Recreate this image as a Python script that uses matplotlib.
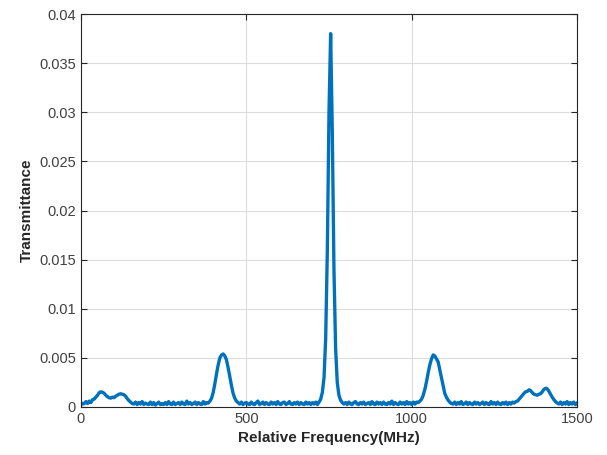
import numpy as np
import matplotlib.pyplot as plt

# relative frequency grid (MHz), 5 MHz sampling
freq = np.arange(0, 1505, 5)

# transmittance, in units of 1e-3, one row per 100 MHz
trans_e3 = [
    0.45, 0.30, 0.35, 0.55, 0.35, 0.60, 0.45, 0.75, 0.80, 1.00, 1.20, 1.45, 1.55, 1.50, 1.40, 1.20, 1.05, 0.95, 0.90, 1.00,
    0.95, 1.10, 1.20, 1.30, 1.35, 1.30, 1.25, 1.10, 0.85, 0.65, 0.50, 0.35, 0.30, 0.50, 0.25, 0.45, 0.30, 0.55, 0.25, 0.40,
    0.30, 0.25, 0.50, 0.25, 0.45, 0.20, 0.35, 0.50, 0.25, 0.35, 0.25, 0.45, 0.25, 0.55, 0.30, 0.25, 0.50, 0.25, 0.35, 0.45,
    0.25, 0.50, 0.30, 0.25, 0.60, 0.30, 0.45, 0.25, 0.35, 0.50, 0.25, 0.45, 0.30, 0.25, 0.55, 0.30, 0.45, 0.40, 0.60, 0.90,
    1.50, 2.40, 3.40, 4.30, 5.00, 5.30, 5.40, 5.20, 4.80, 4.00, 3.10, 2.20, 1.40, 0.90, 0.60, 0.45, 0.30, 0.50, 0.25, 0.40,
    0.45, 0.30, 0.25, 0.50, 0.30, 0.25, 0.45, 0.60, 0.25, 0.35, 0.50, 0.25, 0.45, 0.30, 0.25, 0.50, 0.30, 0.45, 0.25, 0.55,
    0.30, 0.25, 0.45, 0.50, 0.25, 0.35, 0.55, 0.30, 0.25, 0.45, 0.30, 0.50, 0.25, 0.45, 0.30, 0.25, 0.50, 0.30, 0.45, 0.25,
    0.45, 0.30, 0.50, 0.25, 0.50, 0.80, 1.50, 3.00, 7.00, 16.0, 30.0, 38.0, 28.0, 14.0, 6.00, 2.50, 1.20, 0.70, 0.45, 0.30,
    0.45, 0.25, 0.50, 0.30, 0.25, 0.45, 0.55, 0.30, 0.25, 0.45, 0.30, 0.50, 0.25, 0.35, 0.45, 0.25, 0.55, 0.30, 0.25, 0.50,
    0.30, 0.45, 0.25, 0.50, 0.30, 0.25, 0.45, 0.30, 0.60, 0.25, 0.45, 0.30, 0.25, 0.50, 0.30, 0.45, 0.25, 0.55, 0.30, 0.45,
    0.25, 0.50, 0.30, 0.50, 0.45, 0.60, 0.80, 1.20, 1.80, 2.60, 3.50, 4.30, 4.90, 5.30, 5.20, 4.90, 4.60, 3.80, 3.00, 2.20,
    1.40, 1.00, 0.70, 0.50, 0.35, 0.30, 0.50, 0.25, 0.45, 0.30, 0.55, 0.25, 0.35, 0.50, 0.25, 0.45, 0.30, 0.25, 0.50, 0.30,
    0.45, 0.25, 0.35, 0.50, 0.25, 0.45, 0.30, 0.25, 0.55, 0.30, 0.45, 0.25, 0.50, 0.30, 0.25, 0.45, 0.30, 0.50, 0.25, 0.45,
    0.30, 0.50, 0.40, 0.55, 0.60, 0.80, 1.00, 1.20, 1.40, 1.55, 1.60, 1.75, 1.65, 1.45, 1.30, 1.25, 1.20, 1.30, 1.35, 1.55,
    1.80, 1.90, 1.85, 1.60, 1.30, 1.00, 0.75, 0.55, 0.40, 0.30, 0.50, 0.25, 0.45, 0.30, 0.55, 0.25, 0.45, 0.30, 0.50, 0.25,
    0.40,
]
trans = np.array(trans_e3) * 1e-3

xticks = [0, 500, 1000, 1500]
yticks = [0, 0.005, 0.01, 0.015, 0.02, 0.025, 0.03, 0.035, 0.04]
ytick_labels = ['0', '0.005', '0.01', '0.015', '0.02', '0.025', '0.03', '0.035', '0.04']

plt.rcParams['font.family'] = ['Liberation Sans', 'DejaVu Sans']

fig = plt.figure(figsize=(6.07, 4.55), dpi=100)
ax = fig.add_axes([0.1334, 0.1055, 0.8172, 0.8637])

ax.plot(freq, trans, color='#0072BD', linewidth=2.4)

ax.set_xlim(0, 1500)
ax.set_ylim(0, 0.04)
ax.set_xticks(xticks)
ax.set_yticks(yticks)
ax.set_yticklabels(ytick_labels)
ax.grid(True, color='#dcdcdc', linewidth=0.8)
ax.set_axisbelow(True)

ax.tick_params(direction='in', length=4, width=0.8, colors='#262626',
               labelsize=10.5, top=True, right=True)
ax.tick_params(labelcolor='#404040')
for side in ax.spines.values():
    side.set_color('#262626')
    side.set_linewidth(0.8)

ax.set_xlabel('Relative Frequency(MHz)', fontsize=11, fontweight='bold', color='#262626')
ax.set_ylabel('Transmittance', fontsize=11, fontweight='bold', color='#262626')

fig.savefig('out.png', dpi=100)
